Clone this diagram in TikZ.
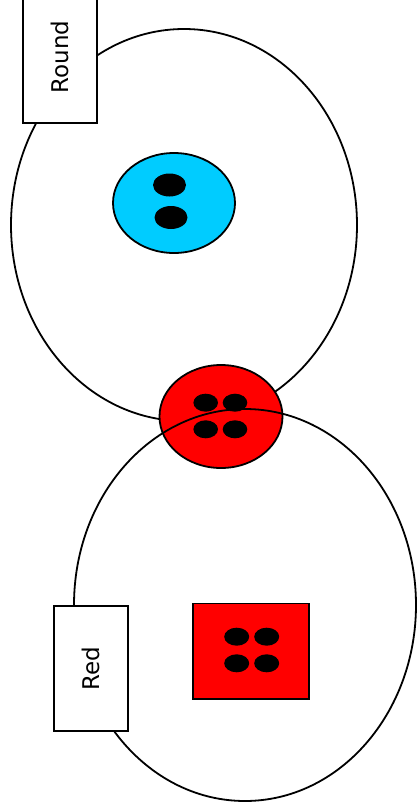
\documentclass[tikz,border=0pt]{standalone}
\usepackage{fontspec}
\setmainfont{DejaVu Sans}
\usepackage{tikz}

\definecolor{skyblue}{RGB}{0,204,255}
\definecolor{brightred}{RGB}{255,0,0}

\tikzset{
  outline/.style={draw=black, line width=1.8pt},
  blackdot/.style={fill=black},
  labelbox/.style={draw=black, fill=white, line width=1.8pt, rotate=90, minimum height=74pt, minimum width=125pt, inner sep=0pt}
}

\begin{document}
\begin{tikzpicture}[x=1pt, y=-1pt]
  \useasboundingbox (0,0) rectangle (417,812);

  % round set
  \draw[outline] (184,225) ellipse (173 and 196);
  \filldraw[outline, fill=skyblue] (174,203) ellipse (61 and 50);
  \fill[blackdot] (169.5,185) ellipse (16.5 and 11.5);
  \fill[blackdot] (171,217.5) ellipse (16.5 and 11.5);

  % shared element
  \filldraw[outline, fill=brightred] (221,416.5) ellipse (61.5 and 51.5);

  % red set
  \draw[outline] (245,605) ellipse (171 and 196);
  \foreach \dx in {205.7,235} {
    \foreach \dy in {402.7,429.3} {
      \fill[blackdot] (\dx,\dy) ellipse (12.3 and 9);
    }
  }
  \filldraw[outline, fill=brightred] (193,603.5) rectangle (309,699);
  \foreach \dx in {236.7,266.7} {
    \foreach \dy in {636.7,663.3} {
      \fill[blackdot] (\dx,\dy) ellipse (12.5 and 9);
    }
  }

  % labels
  \node[labelbox, minimum width=132pt] (round) at (59.7,57) {\fontsize{23pt}{27pt}\selectfont Round};
  \node[labelbox] (red) at (91.3,668.5) {\fontsize{23pt}{27pt}\selectfont Red};
\end{tikzpicture}
\end{document}
